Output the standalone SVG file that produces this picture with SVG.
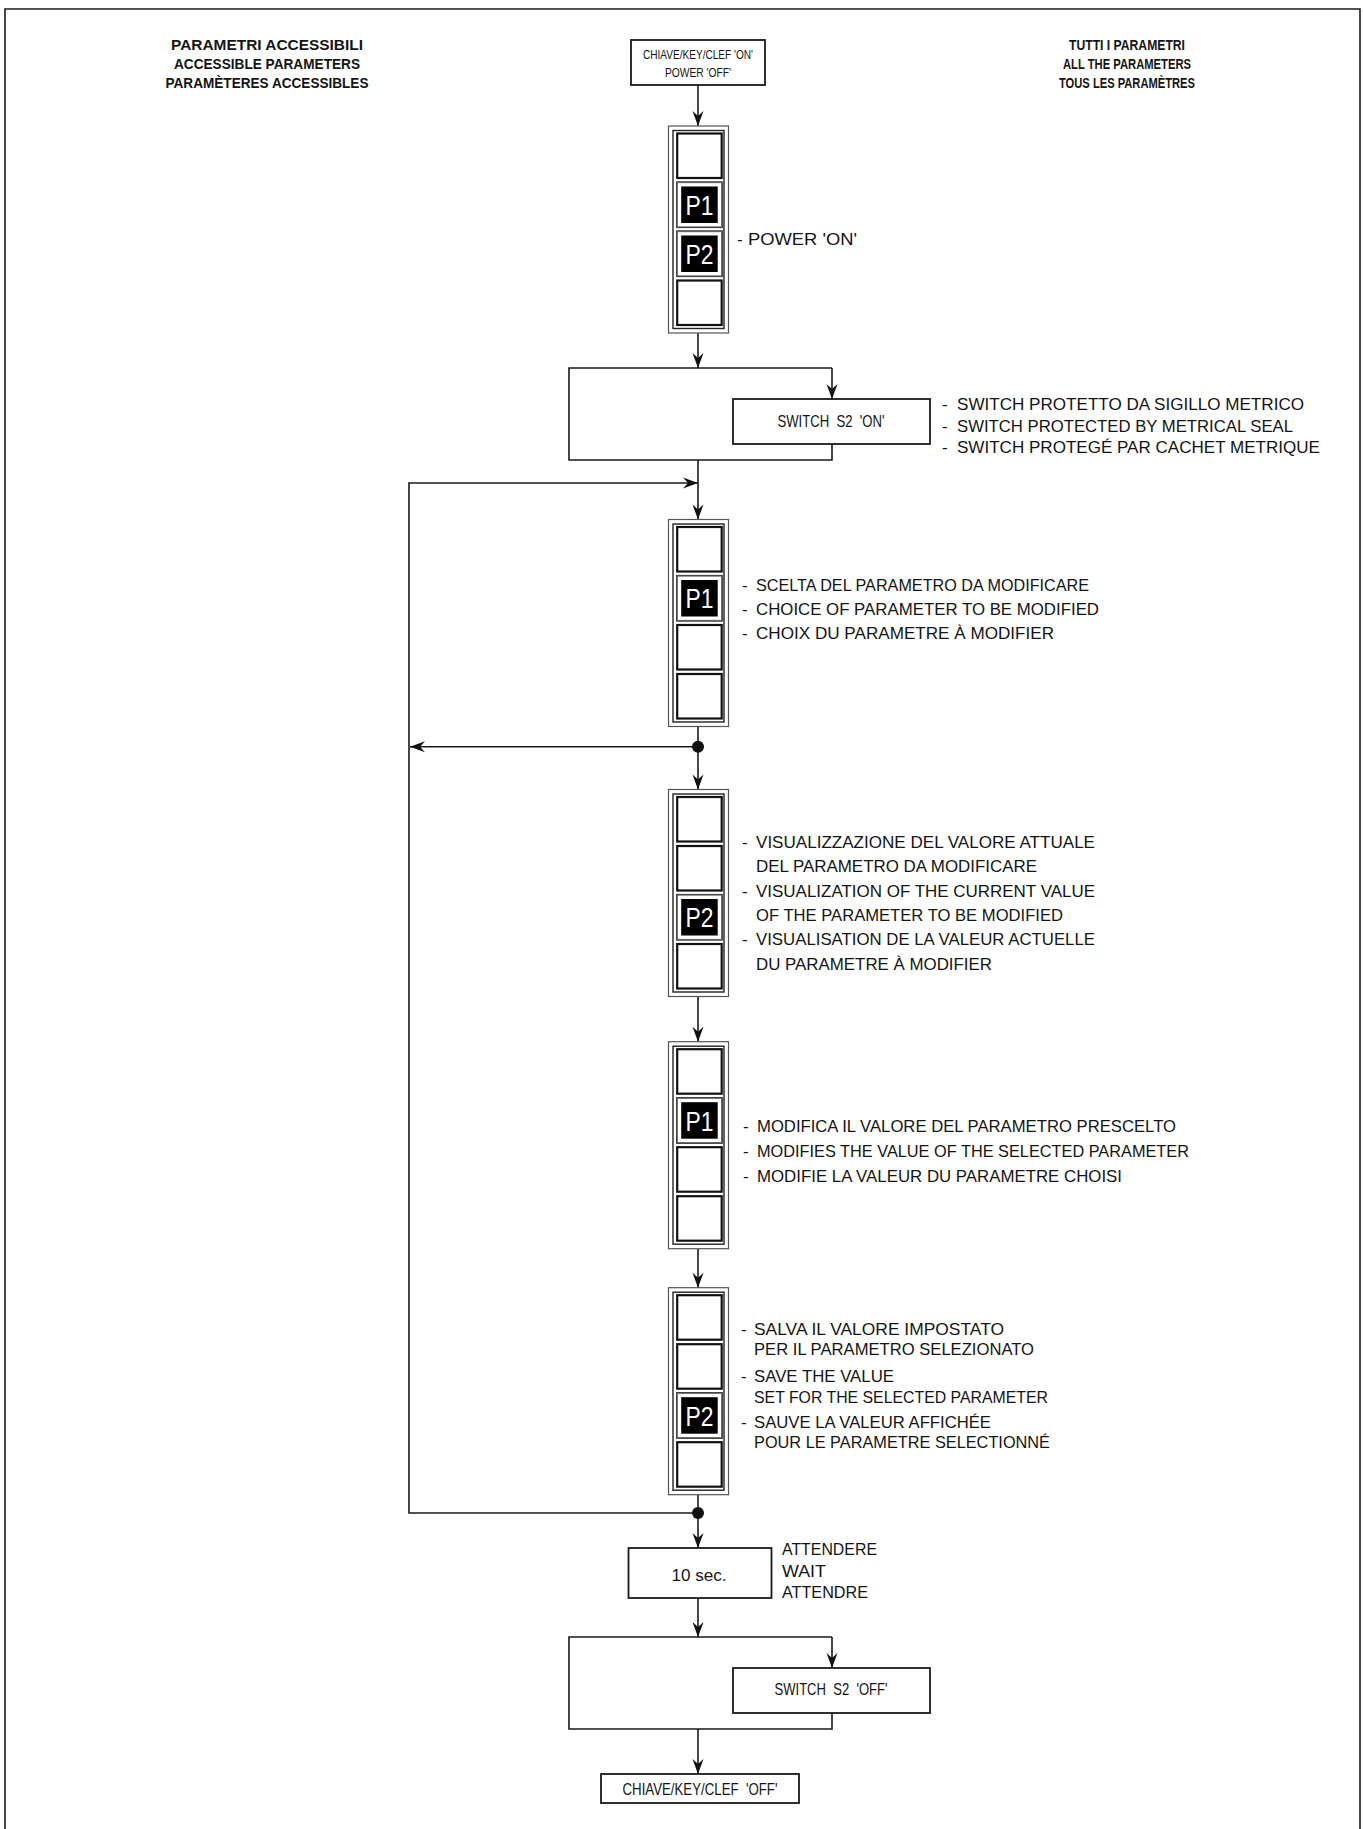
<svg xmlns="http://www.w3.org/2000/svg" xmlns:xlink="http://www.w3.org/1999/xlink" width="1363" height="1829" viewBox="0 0 1363 1829">
<style>
text{font-family:"Liberation Sans",Arial,sans-serif;fill:#141414;white-space:pre}
.hdr{font-size:15px;font-weight:bold;text-anchor:middle}
.side{font-size:17px}
.lbl{font-size:17px;text-anchor:middle}
.small{font-size:13.5px;text-anchor:middle}
.box{fill:#fff;stroke:#1a1a1a;stroke-width:1.8}
.ln{fill:none;stroke:#1a1a1a;stroke-width:1.6}
.so{fill:#fff;stroke:#555;stroke-width:1.2}
.si{fill:#fff;stroke:#222;stroke-width:1.4}
.ce{fill:#fff;stroke:#111;stroke-width:2.2}
.cp{fill:#fff;stroke:#666;stroke-width:1.3}
.pt{font-size:27px;fill:#fff;text-anchor:middle}
</style>
<defs>
<marker id="ah" viewBox="-16 -7 17 14" refX="0" refY="0" markerWidth="17" markerHeight="14" markerUnits="userSpaceOnUse" orient="auto">
<path d="M0,0 L-15,-5.5 L-10,0 L-15,5.5 Z" fill="#111"/>
</marker>
<g id="stk">
<rect class="so" x="0" y="0" width="60" height="207"/>
<rect class="si" x="4.5" y="4.5" width="51" height="198"/>
<rect class="ce" x="8.7" y="7.5" width="44.5" height="44.5"/>
<rect class="ce" x="8.7" y="56.5" width="44.5" height="44.5"/>
<rect class="ce" x="8.7" y="105.5" width="44.5" height="44.5"/>
<rect class="ce" x="8.7" y="154.5" width="44.5" height="44.5"/>
</g>
<g id="pc">
<rect class="cp" x="8.7" y="0" width="44.5" height="44.5"/>
<rect x="12.7" y="4" width="36.5" height="36.5" fill="#000"/>
</g>
</defs>
<rect width="1363" height="1829" fill="#fff"/>
<path class="ln" d="M5,1829 V9 H1360 V1829" stroke-width="1.4"/>

<g id="headers">
<text class="hdr" x="267" y="50" textLength="192" lengthAdjust="spacingAndGlyphs">PARAMETRI ACCESSIBILI</text>
<text class="hdr" x="267" y="69" textLength="186" lengthAdjust="spacingAndGlyphs">ACCESSIBLE PARAMETERS</text>
<text class="hdr" x="267" y="88" textLength="203" lengthAdjust="spacingAndGlyphs">PARAMÈTERES ACCESSIBLES</text>
<text class="hdr" x="1127" y="50" textLength="116" lengthAdjust="spacingAndGlyphs">TUTTI I PARAMETRI</text>
<text class="hdr" x="1127" y="69" textLength="128" lengthAdjust="spacingAndGlyphs">ALL THE PARAMETERS</text>
<text class="hdr" x="1127" y="88" textLength="136" lengthAdjust="spacingAndGlyphs">TOUS LES PARAMÈTRES</text>
</g>

<g id="connectors">
<path class="ln" d="M698,85 V126" marker-end="url(#ah)"/>
<path class="ln" d="M698,333 V368" marker-end="url(#ah)"/>
<path class="ln" d="M832,368 V399" marker-end="url(#ah)"/>
<path class="ln" d="M698,460 V519.5" marker-end="url(#ah)"/>
<path class="ln" d="M698,1513 H409 V483 H698" marker-end="url(#ah)"/>
<path class="ln" d="M698,746.7 H410" marker-end="url(#ah)"/>
<path class="ln" d="M698,726.5 V789.5" marker-end="url(#ah)"/>
<path class="ln" d="M698,996.5 V1041.7" marker-end="url(#ah)"/>
<path class="ln" d="M698,1248.7 V1287.7" marker-end="url(#ah)"/>
<path class="ln" d="M698,1494.7 V1548" marker-end="url(#ah)"/>
<path class="ln" d="M698,1598 V1637" marker-end="url(#ah)"/>
<path class="ln" d="M832,1637 V1668" marker-end="url(#ah)"/>
<path class="ln" d="M698,1729 V1774" marker-end="url(#ah)"/>
<circle cx="698" cy="746.7" r="6" fill="#111"/>
<circle cx="698" cy="1513" r="6" fill="#111"/>
</g>

<g id="start">
<rect class="box" x="631" y="40" width="134" height="45"/>
<text class="small" x="698" y="59" textLength="110" lengthAdjust="spacingAndGlyphs">CHIAVE/KEY/CLEF 'ON'</text>
<text class="small" x="698" y="77" textLength="66" lengthAdjust="spacingAndGlyphs">POWER 'OFF'</text>
</g>

<g id="stack1">
<use xlink:href="#stk" x="668.5" y="126"/>
<use xlink:href="#pc" x="668.5" y="182.5"/>
<text class="pt" x="699.5" y="214.8" textLength="28" lengthAdjust="spacingAndGlyphs">P1</text>
<use xlink:href="#pc" x="668.5" y="231.5"/>
<text class="pt" x="699.5" y="263.8" textLength="28" lengthAdjust="spacingAndGlyphs">P2</text>
<text class="side" x="737" y="244.5">-</text>
<text class="side" x="748" y="244.5" textLength="109" lengthAdjust="spacingAndGlyphs">POWER 'ON'</text>
</g>

<g id="switchOn">
<path class="ln" d="M832,444 V460 H569 V368 H832" stroke-width="1.8"/>
<rect class="box" x="733" y="399" width="197" height="45"/>
<text class="lbl" x="831" y="427" textLength="107" lengthAdjust="spacingAndGlyphs">SWITCH  S2  'ON'</text>
<text class="side" x="942" y="410">-</text>
<text class="side" x="957" y="410" textLength="347" lengthAdjust="spacingAndGlyphs">SWITCH PROTETTO DA SIGILLO METRICO</text>
<text class="side" x="942" y="431.5">-</text>
<text class="side" x="957" y="431.5" textLength="336" lengthAdjust="spacingAndGlyphs">SWITCH PROTECTED BY METRICAL SEAL</text>
<text class="side" x="942" y="453">-</text>
<text class="side" x="957" y="453" textLength="363" lengthAdjust="spacingAndGlyphs">SWITCH PROTEGÉ PAR CACHET METRIQUE</text>
</g>

<g id="stack2">
<use xlink:href="#stk" x="668.5" y="519.5"/>
<use xlink:href="#pc" x="668.5" y="576"/>
<text class="pt" x="699.5" y="608.3" textLength="28" lengthAdjust="spacingAndGlyphs">P1</text>
<text class="side" x="742" y="591">-</text>
<text class="side" x="756" y="591" textLength="333" lengthAdjust="spacingAndGlyphs">SCELTA DEL PARAMETRO DA MODIFICARE</text>
<text class="side" x="742" y="615">-</text>
<text class="side" x="756" y="615" textLength="343" lengthAdjust="spacingAndGlyphs">CHOICE OF PARAMETER TO BE MODIFIED</text>
<text class="side" x="742" y="639">-</text>
<text class="side" x="756" y="639" textLength="298" lengthAdjust="spacingAndGlyphs">CHOIX DU PARAMETRE À MODIFIER</text>
</g>

<g id="stack3">
<use xlink:href="#stk" x="668.5" y="789.5"/>
<use xlink:href="#pc" x="668.5" y="895"/>
<text class="pt" x="699.5" y="927.3" textLength="28" lengthAdjust="spacingAndGlyphs">P2</text>
<text class="side" x="742" y="848">-</text>
<text class="side" x="756" y="848" textLength="339" lengthAdjust="spacingAndGlyphs">VISUALIZZAZIONE DEL VALORE ATTUALE</text>
<text class="side" x="756" y="872.3" textLength="281" lengthAdjust="spacingAndGlyphs">DEL PARAMETRO DA MODIFICARE</text>
<text class="side" x="742" y="896.6">-</text>
<text class="side" x="756" y="896.6" textLength="339" lengthAdjust="spacingAndGlyphs">VISUALIZATION OF THE CURRENT VALUE</text>
<text class="side" x="756" y="920.9" textLength="307" lengthAdjust="spacingAndGlyphs">OF THE PARAMETER TO BE MODIFIED</text>
<text class="side" x="742" y="945.2">-</text>
<text class="side" x="756" y="945.2" textLength="339" lengthAdjust="spacingAndGlyphs">VISUALISATION DE LA VALEUR ACTUELLE</text>
<text class="side" x="756" y="969.5" textLength="236" lengthAdjust="spacingAndGlyphs">DU PARAMETRE À MODIFIER</text>
</g>

<g id="stack4">
<use xlink:href="#stk" x="668.5" y="1041.7"/>
<use xlink:href="#pc" x="668.5" y="1098.2"/>
<text class="pt" x="699.5" y="1130.5" textLength="28" lengthAdjust="spacingAndGlyphs">P1</text>
<text class="side" x="743" y="1131.7">-</text>
<text class="side" x="757" y="1131.7" textLength="419" lengthAdjust="spacingAndGlyphs">MODIFICA IL VALORE DEL PARAMETRO PRESCELTO</text>
<text class="side" x="743" y="1156.7">-</text>
<text class="side" x="757" y="1156.7" textLength="432" lengthAdjust="spacingAndGlyphs">MODIFIES THE VALUE OF THE SELECTED PARAMETER</text>
<text class="side" x="743" y="1181.7">-</text>
<text class="side" x="757" y="1181.7" textLength="365" lengthAdjust="spacingAndGlyphs">MODIFIE LA VALEUR DU PARAMETRE CHOISI</text>
</g>

<g id="stack5">
<use xlink:href="#stk" x="668.5" y="1287.7"/>
<use xlink:href="#pc" x="668.5" y="1393.2"/>
<text class="pt" x="699.5" y="1425.5" textLength="28" lengthAdjust="spacingAndGlyphs">P2</text>
<text class="side" x="741" y="1335">-</text>
<text class="side" x="754" y="1335" textLength="250" lengthAdjust="spacingAndGlyphs">SALVA IL VALORE IMPOSTATO</text>
<text class="side" x="754" y="1355" textLength="280" lengthAdjust="spacingAndGlyphs">PER IL PARAMETRO SELEZIONATO</text>
<text class="side" x="741" y="1382">-</text>
<text class="side" x="754" y="1382" textLength="140" lengthAdjust="spacingAndGlyphs">SAVE THE VALUE</text>
<text class="side" x="754" y="1403" textLength="294" lengthAdjust="spacingAndGlyphs">SET FOR THE SELECTED PARAMETER</text>
<text class="side" x="741" y="1428">-</text>
<text class="side" x="754" y="1428" textLength="237" lengthAdjust="spacingAndGlyphs">SAUVE LA VALEUR AFFICHÉE</text>
<text class="side" x="754" y="1448" textLength="296" lengthAdjust="spacingAndGlyphs">POUR LE PARAMETRE SELECTIONNÉ</text>
</g>

<g id="wait">
<rect class="box" x="628.5" y="1548" width="143" height="50"/>
<text class="lbl" x="699" y="1581" font-size="19" textLength="55" lengthAdjust="spacingAndGlyphs">10 sec.</text>
<text class="side" x="782" y="1555" textLength="95" lengthAdjust="spacingAndGlyphs">ATTENDERE</text>
<text class="side" x="782" y="1577" textLength="44" lengthAdjust="spacingAndGlyphs">WAIT</text>
<text class="side" x="782" y="1598" textLength="86" lengthAdjust="spacingAndGlyphs">ATTENDRE</text>
</g>

<g id="switchOff">
<path class="ln" d="M832,1713 V1729 H569 V1637 H832" stroke-width="1.8"/>
<rect class="box" x="733" y="1668" width="197" height="45"/>
<text class="lbl" x="831" y="1695" textLength="113" lengthAdjust="spacingAndGlyphs">SWITCH  S2  'OFF'</text>
</g>

<g id="end">
<rect class="box" x="601" y="1774" width="198" height="29"/>
<text class="lbl" x="700" y="1795" textLength="155" lengthAdjust="spacingAndGlyphs">CHIAVE/KEY/CLEF  'OFF'</text>
</g>
</svg>
